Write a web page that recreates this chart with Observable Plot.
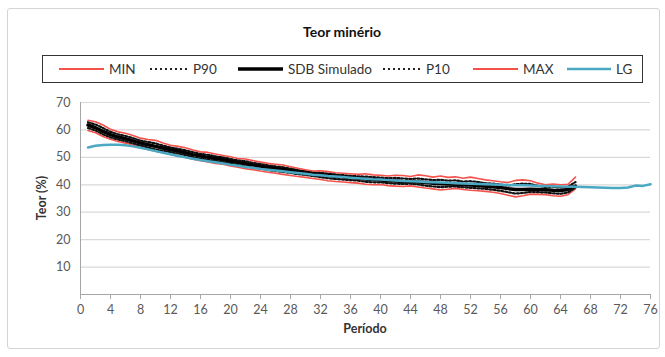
<!DOCTYPE html>
<html>
<head>
<meta charset="utf-8">
<script src="https://cdn.jsdelivr.net/npm/d3@7"></script>
<script src="https://cdn.jsdelivr.net/npm/@observablehq/plot@0.6"></script>
<style>
  html, body { margin: 0; padding: 0; background: #fff; }
  body { width: 665px; height: 357px; position: relative; overflow: hidden; font-family: Lato, "Open Sans", sans-serif; }
  #frame { position: absolute; left: 7px; top: 8px; width: 653px; height: 341px; border: 1px solid #d4d4d4; border-radius: 3px; box-sizing: border-box; }
  #title { position: absolute; left: 242px; width: 200px; top: 23px; text-align: center; font-weight: bold; font-size: 14px; color: #111; }
  #legend { position: absolute; left: 42px; top: 55px; width: 601px; height: 28px; border: 1px solid #333; box-sizing: border-box; font-size: 13.5px; color: #333; }
  .item { display: flex; align-items: center; position: absolute; top: 4px; height: 18px; }
  .item svg { margin-right: 5px; }
  #chart { position: absolute; left: 0; top: 0; }
  #xlabel { position: absolute; left: 80px; width: 570px; top: 321px; text-align: center; font-weight: bold; font-size: 12.5px; color: #333; }
  #ylabel { position: absolute; left: 41px; top: 198px; transform: translate(-50%, -50%) rotate(-90deg); font-weight: bold; font-size: 12.5px; color: #333; white-space: nowrap; }
</style>
</head>
<body>
<div id="frame"></div>
<div id="chart"></div>
<div id="title">Teor minério</div>
<div id="legend"></div>
<div id="xlabel">Período</div>
<div id="ylabel">Teor (%)</div>
<script>
// Data
const periodsSim = d3.range(1, 67);
const periodsLG = d3.range(1, 77);

const sdb = [61.8,60.8,59.5,58.3,57.4,56.8,56.0,55.2,54.6,54.0,53.4,52.8,52.3,51.7,51.0,50.5,50.0,49.6,49.2,48.6,
  48.1,47.7,47.2,46.8,46.3,45.9,45.6,45.2,44.8,44.4,44.0,43.7,43.4,43.1,42.8,42.6,42.4,42.1,41.9,41.7,
  41.5,41.4,41.2,41.1,41.0,40.8,40.6,40.4,40.3,40.2,40.0,39.9,39.7,39.5,39.3,39.0,38.6,38.3,38.3,38.4,
  38.3,38.2,38.0,37.9,38.3,39.5];

const maxV = [63.5,63.0,61.8,60.2,59.3,58.8,58.0,57.0,56.5,56.2,55.2,54.4,54.0,53.5,52.7,52.0,51.8,51.2,50.7,50.2,
  49.6,49.4,48.8,48.3,47.8,47.5,47.2,46.6,46.0,45.5,45.0,45.1,44.8,44.4,44.2,44.0,43.8,44.0,43.6,43.5,
  43.2,43.5,43.4,43.0,43.6,43.3,42.8,43.2,42.7,42.9,42.4,42.8,42.3,41.8,41.5,41.1,40.8,41.6,41.8,41.5,
  40.6,40.0,40.3,40.0,40.2,42.8];

const minV = [59.8,59.0,57.6,56.6,55.8,55.2,54.5,53.6,52.9,52.2,51.7,51.1,50.6,50.0,49.3,48.8,48.3,47.8,47.5,46.9,
  46.4,45.9,45.5,45.0,44.6,44.2,43.8,43.4,43.0,42.7,42.3,41.9,41.5,41.2,41.0,40.8,40.6,40.2,40.0,40.1,
  39.7,39.5,39.4,39.6,39.2,38.8,38.5,38.1,38.4,38.7,38.3,38.0,37.8,37.6,37.3,36.8,36.2,35.6,36.0,36.6,
  36.5,36.4,36.0,35.8,36.4,38.5];

const p90 = [62.8,62.0,60.7,59.3,58.4,57.8,57.0,56.1,55.6,55.1,54.3,53.6,53.1,52.6,51.9,51.3,50.9,50.4,50.0,49.4,
  48.9,48.6,48.0,47.6,47.1,46.7,46.4,45.9,45.4,45.0,44.5,44.4,44.1,43.8,43.5,43.3,43.1,43.0,42.8,42.6,
  42.4,42.5,42.3,42.1,42.3,42.0,41.7,41.8,41.5,41.6,41.2,41.3,41.0,40.6,40.4,40.1,39.7,40.2,40.4,40.3,
  39.6,39.2,39.3,39.0,39.3,41.0];

const p10 = [60.7,59.8,58.4,57.3,56.5,55.9,55.1,54.3,53.6,52.9,52.4,51.9,51.4,50.8,50.1,49.6,49.1,48.7,48.3,47.7,
  47.2,46.7,46.3,45.9,45.4,45.0,44.7,44.3,43.9,43.6,43.2,42.8,42.4,42.1,41.9,41.7,41.5,41.1,40.9,40.9,
  40.6,40.4,40.3,40.4,40.1,39.7,39.4,39.1,39.3,39.4,39.1,38.9,38.7,38.5,38.2,37.8,37.3,36.8,37.0,37.4,
  37.3,37.2,36.9,36.7,37.2,39.0];

const lg = [53.6,54.2,54.5,54.6,54.6,54.4,54.0,53.5,52.9,52.3,51.7,51.1,50.5,50.0,49.5,49.0,48.6,48.2,47.8,47.3,
  46.9,46.5,46.2,45.8,45.5,45.2,44.9,44.6,44.3,44.0,43.7,43.5,43.2,43.0,42.8,42.6,42.4,42.2,42.0,41.9,
  41.7,41.6,41.4,41.3,41.2,41.0,40.9,40.8,40.7,40.6,40.5,40.4,40.3,40.2,40.1,40.0,39.9,39.8,39.8,39.7,
  39.6,39.6,39.5,39.4,39.3,39.3,39.2,39.1,39.0,38.9,38.8,38.8,39.0,39.7,39.6,40.2];

const xTicks = d3.range(0, 77, 4);
const yTicks = [10, 20, 30, 40, 50, 60, 70];

const seriesNames = ["MIN", "P90", "SDB Simulado", "P10", "MAX", "LG"];

const RED = "#f5524c";
const BLUE = "#4aa8c3";

const sim = (vals) => periodsSim.map((p, i) => ({p, v: vals[i]}));
const lgData = periodsLG.map((p, i) => ({p, v: lg[i]}));

const chart = Plot.plot({
  width: 665,
  height: 357,
  marginTop: 102,
  marginBottom: 63,
  marginLeft: 80,
  marginRight: 15,
  style: {fontFamily: "Lato, 'Open Sans', sans-serif", fontSize: "12.5px", color: "#595959", background: "transparent"},
  x: {domain: [0, 76]},
  y: {domain: [0, 70]},
  marks: [
    Plot.gridY(yTicks, {stroke: "#d9d9d9", strokeOpacity: 1, strokeWidth: 1.2}),
    Plot.ruleX([0], {stroke: "#a6a6a6"}),
    Plot.ruleY([0], {stroke: "#a6a6a6"}),
    Plot.axisY({ticks: yTicks, tickSize: 0, tickPadding: 10, label: null, fill: "#595959"}),
    Plot.axisX({ticks: xTicks, tickSize: 5, tickPadding: 6, label: null, stroke: "#a6a6a6", fill: "#595959", tickFormat: d => String(d)}),
    Plot.lineY(sim(minV), {x: "p", y: "v", stroke: RED, strokeWidth: 1.6}),
    Plot.lineY(sim(p90), {x: "p", y: "v", stroke: "#111", strokeWidth: 2.2, strokeDasharray: "2,2"}),
    Plot.lineY(sim(sdb), {x: "p", y: "v", stroke: "#000", strokeWidth: 3.5}),
    Plot.lineY(sim(p10), {x: "p", y: "v", stroke: "#111", strokeWidth: 2.2, strokeDasharray: "2,2"}),
    Plot.lineY(sim(maxV), {x: "p", y: "v", stroke: RED, strokeWidth: 1.6}),
    Plot.lineY(lgData, {x: "p", y: "v", stroke: BLUE, strokeWidth: 2.5})
  ]
});
document.getElementById("chart").appendChild(chart);

// Legend
const legendStyles = {
  "MIN": {stroke: RED, w: 2, dash: null, x: 16, len: 45},
  "P90": {stroke: "#222", w: 2, dash: "2,3", x: 107, len: 38},
  "SDB Simulado": {stroke: "#000", w: 3.5, dash: null, x: 195, len: 45},
  "P10": {stroke: "#222", w: 2, dash: "2,3", x: 340, len: 38},
  "MAX": {stroke: RED, w: 2, dash: null, x: 430, len: 45},
  "LG": {stroke: BLUE, w: 2.5, dash: null, x: 524, len: 44}
};
const legend = document.getElementById("legend");
seriesNames.forEach(name => {
  const s = legendStyles[name];
  const item = document.createElement("div");
  item.className = "item";
  item.style.left = s.x + "px";
  item.innerHTML = `<svg width="${s.len}" height="10"><line x1="0" x2="${s.len}" y1="5" y2="5" stroke="${s.stroke}" stroke-width="${s.w}" ${s.dash ? `stroke-dasharray="${s.dash}"` : ""}/></svg><span>${name}</span>`;
  legend.appendChild(item);
});
</script>
</body>
</html>
